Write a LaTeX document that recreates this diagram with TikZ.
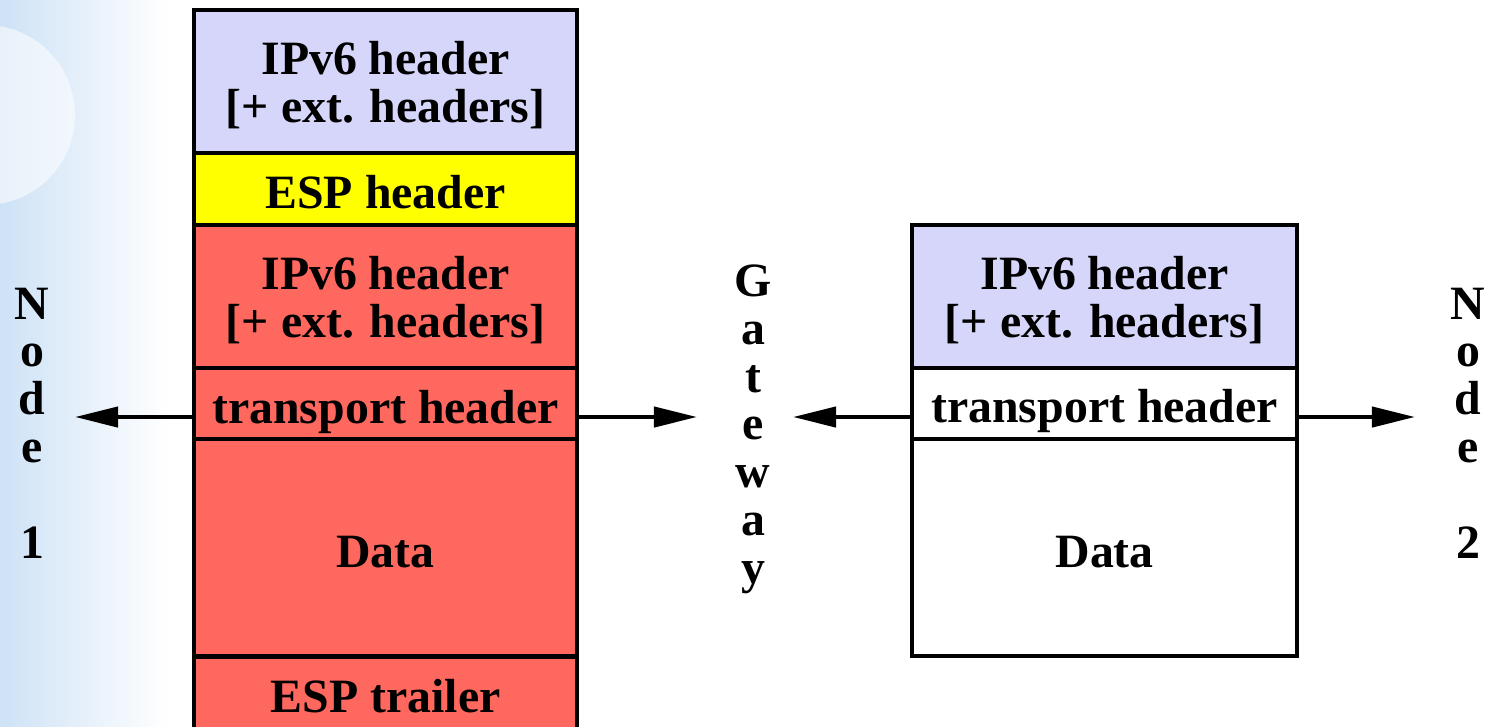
\documentclass[tikz,border=0pt]{standalone}
\usepackage{fontspec}
\setmainfont{Liberation Serif}
\usepackage{xcolor}
\usetikzlibrary{arrows.meta}
\definecolor{lav}{RGB}{214,214,250}
\definecolor{espy}{RGB}{255,255,0}
\definecolor{encr}{RGB}{255,104,94}
\definecolor{bgblue}{RGB}{206,226,246}
\tikzset{
	cell/.style={draw, line width=1.2pt, outer sep=0pt, inner sep=0pt,
			align=center, font=\bfseries\fontsize{13.6}{13.6}\selectfont},
	oneline/.style={text height=11pt, text depth=0pt},
	vlabel/.style={align=center, inner sep=0pt, anchor=north,
			font=\bfseries\fontsize{13.6}{13.6}\selectfont},
	arr/.style={-{Triangle[length=4.3mm,width=2mm]}, line width=1.2pt}
}

\begin{document}
\begin{tikzpicture}[x=0.01cm,y=-0.01cm]
		\useasboundingbox (0,0) rectangle (1493,726);
		\path[clip] (0,0) rectangle (1493,726);
		% background
		\shade[left color=bgblue, right color=white] (0,0) rectangle (170,726);
		\fill[white, opacity=0.55] (-15,115) circle (90);
		% tunnel packet
		\node[cell, fill=lav, minimum width=3.83cm, minimum height=1.43cm, anchor=north west] (ip1) at (194,10) {\rule{0pt}{11.6pt}IPv6 header\\{}[+ ext. headers]};
		\node[cell, oneline, fill=espy, minimum width=3.83cm, minimum height=0.72cm, anchor=north] (esph) at (ip1.south) {ESP header};
		\node[cell, fill=encr, minimum width=3.83cm, minimum height=1.43cm, anchor=north] (ip2) at (esph.south) {\rule{0pt}{11.6pt}IPv6 header\\{}[+ ext. headers]};
		\node[cell, oneline, fill=encr, minimum width=3.83cm, minimum height=0.71cm, anchor=north] (tp1) at (ip2.south) {transport header};
		\node[cell, oneline, fill=encr, minimum width=3.83cm, minimum height=2.17cm, anchor=north] (data1) at (tp1.south) {Data};
		\node[cell, oneline, fill=encr, minimum width=3.83cm, minimum height=0.74cm, anchor=north] (espt) at (data1.south) {ESP trailer};
		% plain packet
		\node[cell, fill=lav, minimum width=3.85cm, minimum height=1.43cm, anchor=north west] (ip3) at (912,225) {\rule{0pt}{11.6pt}IPv6 header\\{}[+ ext. headers]};
		\node[cell, oneline, fill=white, minimum width=3.85cm, minimum height=0.71cm, anchor=north] (tp2) at (ip3.south) {transport header};
		\node[cell, oneline, fill=white, minimum width=3.85cm, minimum height=2.17cm, anchor=north] (data2) at (tp2.south) {Data};
		% labels
		\node[vlabel] (node1) at (32,287) {N\\o\\d\\e\\~\\1};
		\node[vlabel] (gw) at (753,264) {G\\a\\t\\e\\w\\a\\y};
		\node[vlabel] (node2) at (1468,287) {N\\o\\d\\e\\~\\2};
		\coordinate (n1) at (75,417);
		\coordinate (gwl) at (697,417);
		\coordinate (gwr) at (793,417);
		\coordinate (n2) at (1415,417);
		\draw[arr] (tp1.west |- n1) -- (n1);
		\draw[arr] (tp1.east |- gwl) -- (gwl);
		\draw[arr] (tp2.west |- gwr) -- (gwr);
		\draw[arr] (tp2.east |- n2) -- (n2);
	\end{tikzpicture}
\end{document}
